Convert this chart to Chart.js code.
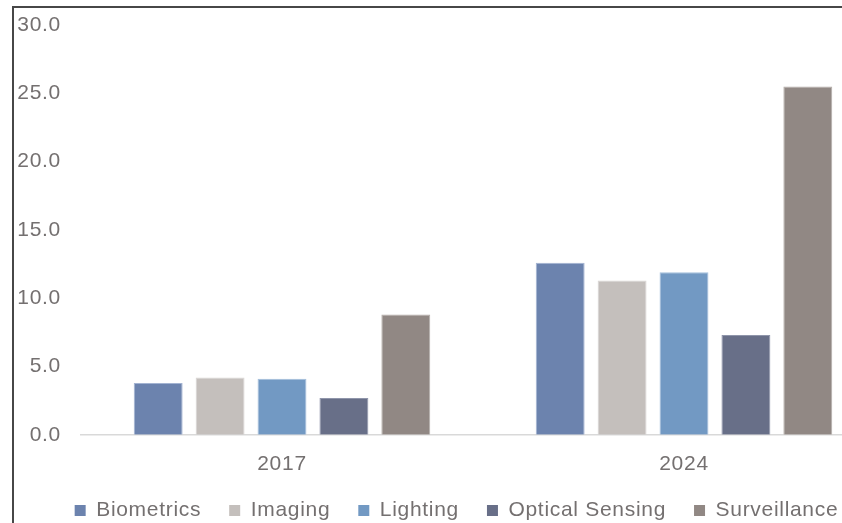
<!DOCTYPE html>
<html>
<head>
<meta charset="utf-8">
<script src="https://cdn.jsdelivr.net/npm/chart.js@4"></script>
<style>
  html, body { margin: 0; padding: 0; background: #fff; overflow: hidden; width: 842px; height: 523px; }
  #frame {
    position: absolute; left: 12px; top: 6px;
    width: 886px; height: 517px;
    border-left: 2px solid #474747; border-top: 2px solid #474747;
  }
  #wrap { position: absolute; left: 0; top: 0; width: 886px; height: 515px; }
</style>
</head>
<body>
<div id="frame"><div id="wrap"><canvas id="chart"></canvas></div></div>
<script>
// Market size by application, 2017 vs 2024
const years = ['2017', '2024'];
const seriesNames = ['Biometrics', 'Imaging', 'Lighting', 'Optical Sensing', 'Surveillance'];
const biometrics = [3.8, 12.6];
const imaging = [4.2, 11.3];
const lighting = [4.1, 11.9];
const opticalSensing = [2.7, 7.3];
const surveillance = [8.8, 25.5];
const yTicks = [0, 5, 10, 15, 20, 25, 30];

const fills = ['#6c83ae', '#c4bfbc', '#7299c3', '#686f88', '#918884'];
const edges = ['#a3b3d2', '#d9d5d3', '#a4bfdc', '#8f95aa', '#b3aca8'];
const values = [biometrics, imaging, lighting, opticalSensing, surveillance];

const textColor = '#747070';
Chart.defaults.font.family = "'Liberation Sans', Arial, sans-serif";
Chart.defaults.font.size = 21;

// slightly wider letter spacing for all canvas text
const spacing = {
  id: 'spacing',
  beforeUpdate(c) { c.ctx.letterSpacing = '0.7px'; },
  beforeDraw(c) { c.ctx.letterSpacing = '0.7px'; }
};

// keep the legend row close to the category labels and centred on the frame
const legendTrim = 22;
const legendShift = 7;
const legendFit = {
  id: 'legendFit',
  beforeLayout(chart) {
    const lg = chart.legend;
    if (lg && !lg._trimmed) {
      const fit = lg.fit;
      lg.fit = function () { fit.call(this); this.height -= legendTrim; };
      lg._trimmed = true;
    }
  },
  afterLayout(chart) {
    const lg = chart.legend;
    if (lg) {
      lg.top -= legendTrim; lg.height += legendTrim;
      lg.left += legendShift; lg.right += legendShift;
    }
  }
};

new Chart(document.getElementById('chart'), {
  type: 'bar',
  data: {
    labels: years,
    datasets: seriesNames.map((name, i) => ({
      label: name,
      data: values[i],
      backgroundColor: fills[i],
      borderColor: edges[i],
      borderWidth: 1,
      categoryPercentage: 0.77,
      barPercentage: 0.79
    }))
  },
  options: {
    responsive: true,
    maintainAspectRatio: false,
    animation: false,
    layout: { padding: { top: 0, right: 15, left: 0, bottom: -8 } },
    plugins: {
      tooltip: { enabled: false },
      legend: {
        position: 'bottom',
        labels: {
          color: textColor,
          boxWidth: 11,
          boxHeight: 11,
          padding: 28,
          font: { size: 21 },
          generateLabels: chart => chart.data.datasets.map((d, i) => ({
            text: d.label,
            fillStyle: fills[i],
            strokeStyle: fills[i],
            lineWidth: 0,
            fontColor: textColor,
            datasetIndex: i
          }))
        }
      }
    },
    scales: {
      x: {
        grid: { display: false, drawTicks: false },
        border: { display: true, color: '#d9d9d9', width: 1.5 },
        ticks: { color: textColor, padding: 17, font: { size: 21 } }
      },
      y: {
        min: 0,
        max: 30,
        afterFit: s => { s.width = 67; s.paddingTop = 17; s.paddingBottom = 0; },
        afterBuildTicks: s => { s.ticks = yTicks.map(v => ({ value: v })); },
        grid: { display: false, drawTicks: false },
        border: { display: false },
        ticks: {
          color: textColor,
          padding: 20,
          font: { size: 21 },
          callback: v => Number(v).toFixed(1)
        }
      }
    }
  },
  plugins: [spacing, legendFit]
});
</script>
</body>
</html>
